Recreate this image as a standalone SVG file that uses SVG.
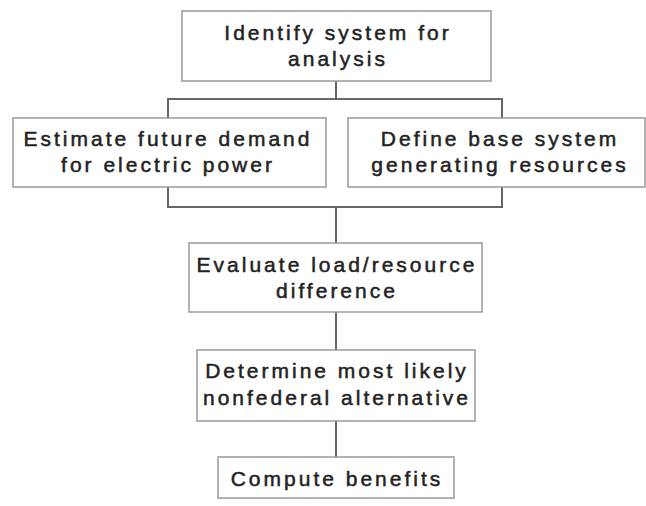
<svg xmlns="http://www.w3.org/2000/svg" width="646" height="506" viewBox="0 0 646 506">
<style>
.box{fill:#ffffff;stroke:#9a9a9a;stroke-width:1.5}
.lbl{font-family:"Liberation Sans",Arial,sans-serif;font-size:21px;letter-spacing:3px;fill:#222;stroke:#222;stroke-width:0.5;text-anchor:middle}
.con{fill:none;stroke:#666;stroke-width:2}
</style>
<rect width="646" height="506" fill="#ffffff"/>
<g id="connectors">
<path class="con" d="M336,81 V99 M168,118 V99 H502 V118"/>
<path class="con" d="M168,187 V207 H502 V187 M336,207 V243"/>
<path class="con" d="M336,312 V350"/>
<path class="con" d="M336,421 V457"/>
</g>
<g id="identify">
<rect class="box" x="182" y="11" width="309" height="70"/>
<text class="lbl" x="338" y="40">Identify system for</text>
<text class="lbl" x="338" y="66">analysis</text>
</g>
<g id="estimate">
<rect class="box" x="13" y="118" width="313" height="69"/>
<text class="lbl" x="168" y="146">Estimate future demand</text>
<text class="lbl" x="168" y="172">for electric power</text>
</g>
<g id="define">
<rect class="box" x="348" y="118" width="297" height="69"/>
<text class="lbl" x="500" y="146">Define base system</text>
<text class="lbl" x="500" y="172">generating resources</text>
</g>
<g id="evaluate">
<rect class="box" x="189" y="243" width="293" height="69"/>
<text class="lbl" x="337" y="272">Evaluate load/resource</text>
<text class="lbl" x="337" y="298">difference</text>
</g>
<g id="determine">
<rect class="box" x="197" y="350" width="278" height="71"/>
<text class="lbl" x="337" y="378">Determine most likely</text>
<text class="lbl" x="337" y="405">nonfederal alternative</text>
</g>
<g id="compute">
<rect class="box" x="218" y="457" width="236" height="41"/>
<text class="lbl" x="337" y="486">Compute benefits</text>
</g>
</svg>
